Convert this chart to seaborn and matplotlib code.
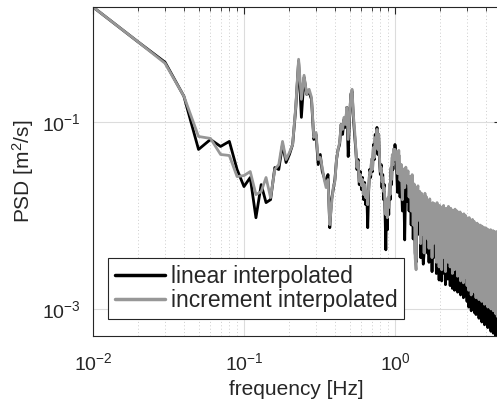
import numpy as np
import pandas as pd
import matplotlib
matplotlib.use("Agg")
import matplotlib.pyplot as plt
import seaborn as sns
from matplotlib.ticker import LogLocator, NullLocator, NullFormatter

# frequency bins [Hz]: 0.01 Hz steps up to 1 Hz, 0.02 Hz steps up to 5 Hz
freq = np.round(np.concatenate([np.arange(1, 101) * 0.01, 1 + np.arange(1, 201) * 0.02]), 2)

series_names = ["linear interpolated", "increment interpolated"]

# log10(PSD [m^2/s]), 0.01 .. 1.00 Hz
log_psd_linear_low = [
    0.237, -0.140, -0.355, -0.720, -1.290, -1.183, -1.258, -1.204, -1.505, -1.688,
    -1.591, -2.022, -1.667, -1.860, -1.828, -1.484, -1.505, -1.237, -1.430, -1.344,
    -1.237, -0.860, -0.344, -0.946, -0.516, -0.699, -0.677, -0.753, -1.183, -1.129,
    -1.452, -1.344, -1.527, -1.591, -1.667, -1.559, -2.129, -1.828, -1.720, -1.613,
    -1.398, -1.290, -1.237, -1.022, -1.129, -0.968, -1.054, -0.839, -1.366, -0.968,
    -0.699, -0.667, -0.946, -1.129,
    -1.290, -1.505, -1.398, -1.667, -1.527, -1.720, -1.591, -1.828, -1.645, -1.882,
    -1.742, -2.129, -1.720, -1.505, -1.591, -1.398, -1.527, -1.237, -1.398, -1.129,
    -1.269, -1.054, -1.344, -1.129, -1.419, -1.559, -1.452, -1.699, -1.559, -1.828,
    -1.667, -1.989, -2.366, -1.882, -2.151, -1.828, -1.989, -1.667, -1.828, -1.505,
    -1.667, -1.376, -1.505, -1.290, -1.419, -1.237,
]
log_psd_increment_low = [
    0.237, -0.140, -0.366, -0.720, -1.151, -1.172, -1.344, -1.355, -1.581, -1.570,
    -1.527, -1.774, -1.742, -1.591, -1.806, -1.505, -1.452, -1.204, -1.398, -1.323,
    -1.237, -0.839, -0.323, -0.753, -0.495, -0.699, -0.645, -0.731, -1.161, -1.108,
    -1.398, -1.376, -1.484, -1.613, -1.699, -1.613, -2.097, -1.882, -1.699, -1.634,
    -1.398, -1.290, -1.215, -1.022, -1.075, -0.946, -1.022, -0.839, -1.183, -0.946,
    -0.699, -0.645, -0.914, -1.075,
    -1.269, -1.484, -1.419, -1.634, -1.559, -1.677, -1.613, -1.774, -1.667, -1.806,
    -1.742, -1.882, -1.699, -1.527, -1.559, -1.398, -1.505, -1.269, -1.376, -1.161,
    -1.237, -1.075, -1.290, -1.129, -1.376, -1.527, -1.484, -1.634, -1.591, -1.742,
    -1.699, -1.882, -1.989, -1.828, -2.022, -1.806, -1.914, -1.667, -1.774, -1.484,
    -1.613, -1.344, -1.452, -1.290, -1.398, -1.290,
]

# log10(PSD), 1.02 .. 5.00 Hz
log_psd_linear_high = [
    -1.40, -1.75, -1.35, -1.80, -1.55, -1.95, -1.60, -2.26, -1.55, -1.85,
    -1.60, -1.95, -1.65, -2.10, -1.62, -2.25, -1.75, -2.40, -2.50, -1.85,
    -1.75, -2.20, -1.80, -2.45, -1.85, -2.35, -2.52, -2.40, -1.85, -2.30,
    -1.90, -2.40, -1.95, -2.50, -1.92, -2.30, -2.00, -2.60, -1.98, -2.45,
    -2.00, -2.40, -2.05, -2.62, -2.00, -2.50, -2.08, -2.69, -2.03, -2.55,
    -2.05, -2.70, -2.10, -2.48, -2.06, -2.62, -2.12, -2.74, -2.09, -2.55,
    -2.12, -2.68, -2.08, -2.60, -2.15, -2.75, -2.11, -2.64, -2.16, -2.78,
    -2.14, -2.60, -2.18, -2.80, -2.13, -2.70, -2.20, -2.66, -2.17, -2.82,
    -2.20, -2.74, -2.24, -2.70, -2.19, -2.85, -2.25, -2.72, -2.22, -2.80,
    -2.26, -2.88, -2.23, -2.74, -2.28, -2.86, -2.25, -2.80, -2.30, -2.92,
    -2.29, -2.84, -2.33, -2.98, -2.28, -2.80, -2.35, -2.94, -2.32, -3.02,
    -2.36, -2.88, -2.32, -3.00, -2.38, -2.86, -2.34, -3.04, -2.40, -2.92,
    -2.38, -3.06, -2.42, -2.90, -2.37, -3.02, -2.43, -2.96, -2.40, -3.10,
    -2.44, -2.94, -2.41, -3.08, -2.46, -3.00, -2.43, -3.14, -2.47, -2.96,
    -2.45, -3.10, -2.49, -3.00, -2.46, -3.17, -2.50, -3.04, -2.47, -3.12,
    -2.51, -3.15, -2.48, -3.04, -2.53, -3.20, -2.50, -3.10, -2.54, -3.06,
    -2.52, -3.18, -2.56, -3.08, -2.51, -3.24, -2.55, -3.12, -2.54, -3.22,
    -2.57, -3.10, -2.53, -3.26, -2.58, -3.14, -2.55, -3.22, -2.59, -3.12,
    -2.56, -3.30, -2.60, -3.16, -2.55, -3.25, -2.59, -3.34, -2.58, -3.20,
    -2.62, -3.28, -2.58, -3.36, -2.61, -3.22, -2.63, -3.32, -2.60, -3.40,
]
log_psd_increment_high = [
    -1.35, -1.55, -1.30, -1.62, -1.45, -1.83, -1.50, -1.70, -1.48, -1.65,
    -1.52, -1.80, -1.58, -1.95, -1.56, -2.10, -1.66, -2.45, -2.58, -1.72,
    -1.68, -2.05, -1.74, -2.30, -1.76, -2.20, -1.80, -2.40, -1.76, -2.15,
    -1.80, -2.25, -1.84, -2.35, -1.82, -2.10, -1.88, -2.45, -1.86, -2.30,
    -1.87, -2.20, -1.90, -2.50, -1.86, -2.35, -1.92, -2.55, -1.89, -2.40,
    -1.91, -2.58, -1.93, -2.30, -1.89, -2.45, -1.94, -2.60, -1.92, -2.35,
    -1.93, -2.50, -1.90, -2.40, -1.95, -2.55, -1.92, -2.45, -1.96, -2.62,
    -1.94, -2.38, -1.97, -2.58, -1.93, -2.50, -1.98, -2.44, -1.95, -2.65,
    -1.97, -2.55, -2.00, -2.48, -1.96, -2.70, -2.01, -2.52, -1.99, -2.60,
    -2.01, -2.72, -1.98, -2.50, -2.03, -2.66, -2.00, -2.58, -2.04, -2.75,
    -2.03, -2.62, -2.06, -2.80, -2.02, -2.56, -2.07, -2.70, -2.05, -2.85,
    -2.08, -2.65, -2.04, -2.78, -2.09, -2.60, -2.06, -2.82, -2.10, -2.70,
    -2.09, -2.88, -2.12, -2.66, -2.08, -2.80, -2.12, -2.74, -2.10, -2.90,
    -2.13, -2.70, -2.10, -2.84, -2.14, -2.76, -2.11, -2.92, -2.14, -2.68,
    -2.12, -2.86, -2.15, -2.75, -2.13, -2.95, -2.16, -2.80, -2.13, -2.72,
    -2.16, -2.90, -2.14, -2.78, -2.17, -2.98, -2.15, -2.84, -2.18, -2.76,
    -2.16, -2.92, -2.19, -2.80, -2.15, -3.00, -2.18, -2.86, -2.17, -2.95,
    -2.19, -2.82, -2.16, -3.02, -2.20, -2.88, -2.17, -2.96, -2.20, -2.84,
    -2.18, -3.05, -2.21, -2.90, -2.17, -2.98, -2.20, -3.08, -2.19, -2.92,
    -2.22, -3.00, -2.19, -3.10, -2.21, -2.94, -2.23, -3.04, -2.20, -2.98,
]

x_ticks = [1e-2, 1e-1, 1e0]
y_ticks = [1e-3, 1e-1]
line_colors = ["#000000", "#979797"]

psd_linear = 10.0 ** np.array(log_psd_linear_low + log_psd_linear_high)
psd_increment = 10.0 ** np.array(log_psd_increment_low + log_psd_increment_high)

df = pd.DataFrame({
    "frequency": np.concatenate([freq, freq]),
    "psd": np.concatenate([psd_linear, psd_increment]),
    "series": np.repeat(series_names, len(freq)),
})

sns.set_theme(style="white")
plt.rcParams["font.family"] = ["Liberation Sans", "DejaVu Sans"]
plt.rcParams["mathtext.default"] = "regular"

W, H = 497, 404
fig = plt.figure(figsize=(W / 100, H / 100), dpi=100)
ax = fig.add_axes([93 / W, 1 - 336 / H, 407.5 / W, 329 / H])
ax.set_xscale("log")
ax.set_yscale("log")

sns.lineplot(data=df, x="frequency", y="psd", hue="series", hue_order=series_names,
             palette=line_colors, estimator=None, sort=False, linewidth=2.0, ax=ax)

ax.set_xlim(0.01, 5.0)
ax.set_ylim(10 ** -3.29, 10 ** 0.237)

ax.set_xticks(x_ticks)
ax.xaxis.set_minor_locator(LogLocator(base=10, subs=np.arange(2, 10)))
ax.xaxis.set_minor_formatter(NullFormatter())
ax.set_yticks(y_ticks)
ax.yaxis.set_minor_locator(NullLocator())

ax.set_axisbelow(True)
ax.grid(True, which="major", axis="both", color="#dcdcdc", linewidth=0.8, linestyle="-")
ax.grid(True, which="minor", axis="x", color="#cdcdcd", linewidth=0.7, linestyle=(0, (1, 2.5)))

dark = "#262626"
for side in ["left", "bottom", "top", "right"]:
    ax.spines[side].set_color(dark)
    ax.spines[side].set_linewidth(0.8)
ax.tick_params(which="both", direction="in", colors=dark, top=True, right=True, labelsize=14)
ax.tick_params(which="major", length=5, width=0.8)
ax.tick_params(which="minor", length=3, width=0.6)
ax.tick_params(axis="x", which="major", pad=12)
ax.tick_params(axis="y", which="major", pad=9)

ax.set_xlabel("frequency [Hz]", fontsize=15, color=dark, labelpad=4)
ax.set_ylabel("PSD [m$^{2}$/s]", fontsize=15, color=dark, labelpad=4)

handles, labels = ax.get_legend_handles_labels()
leg = ax.legend(handles, labels, loc="lower left", bbox_to_anchor=(0.036, 0.052),
                borderaxespad=0, fontsize=16.5, handlelength=2.2, handletextpad=0.25,
                borderpad=0.3, labelspacing=0.05, frameon=True, fancybox=False,
                edgecolor=dark, framealpha=1)
leg.get_frame().set_linewidth(0.8)
for line in leg.get_lines():
    line.set_linewidth(2.5)

fig.savefig("out.png", dpi=100)
